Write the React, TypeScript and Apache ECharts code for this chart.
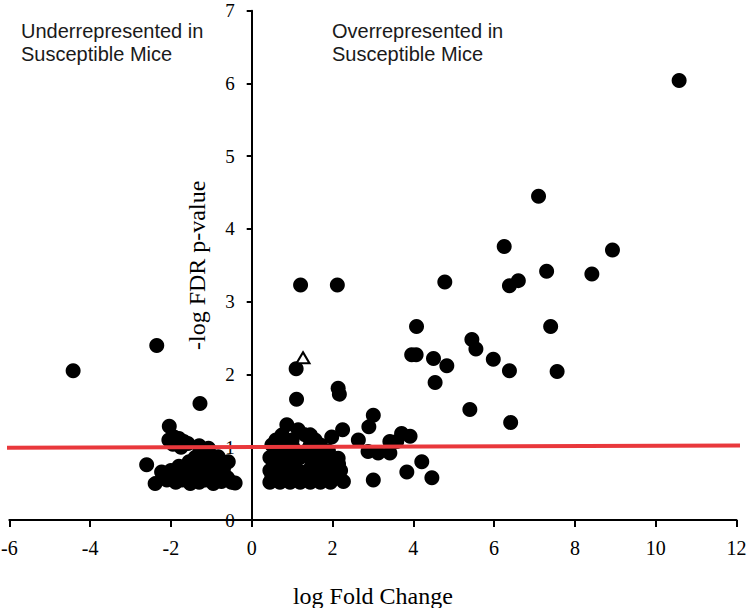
import React, { useEffect, useRef } from "react";
import * as echarts from "echarts";

// x: log Fold Change, y: -log FDR p-value
const underrepresented: [number, number][] = [
  [-4.42, 2.05], [-2.35, 2.4], [-1.28, 1.6], [-2.04, 1.29],
  [-2.05, 1.1], [-1.92, 1.14], [-1.8, 1.12], [-1.68, 1.08], [-1.58, 1.05], [-1.95, 1.04], [-1.75, 1.0],
  [-2.6, 0.76], [-2.39, 0.5], [-2.23, 0.66], [-2.1, 0.55], [-2.0, 0.68], [-1.92, 0.6], [-1.88, 0.52],
  [-1.8, 0.74], [-1.78, 0.64], [-1.72, 0.55], [-1.66, 0.7], [-1.62, 0.6], [-1.55, 0.8], [-1.52, 0.5],
  [-1.48, 0.68], [-1.43, 0.58], [-1.4, 0.86], [-1.35, 0.75], [-1.3, 0.52], [-1.28, 0.95], [-1.3, 1.02],
  [-1.25, 0.65], [-1.2, 0.8], [-1.2, 0.92], [-1.15, 0.55], [-1.1, 0.7], [-1.07, 0.985], [-1.05, 0.6],
  [-1.0, 0.88], [-0.95, 0.5], [-0.9, 0.75], [-0.83, 0.87], [-0.8, 0.62], [-0.75, 0.53], [-0.7, 0.7],
  [-0.6, 0.58], [-0.58, 0.8], [-0.5, 0.52], [-0.41, 0.51],
];

const overrepresented: [number, number][] = [
  [10.58, 6.04], [7.1, 4.45], [6.25, 3.76], [8.93, 3.71], [7.3, 3.42], [8.42, 3.38], [6.6, 3.29],
  [4.78, 3.27], [6.38, 3.22], [1.21, 3.23], [2.12, 3.23], [4.08, 2.66], [7.4, 2.66], [5.45, 2.48],
  [5.55, 2.35], [3.96, 2.27], [4.07, 2.27], [4.5, 2.22], [5.98, 2.21], [4.83, 2.12], [1.1, 2.08],
  [6.38, 2.05], [7.56, 2.04], [4.54, 1.89], [2.14, 1.81], [2.17, 1.73], [1.11, 1.66], [5.4, 1.52],
  [3.01, 1.44], [6.41, 1.34], [0.87, 1.31], [2.9, 1.28], [1.15, 1.24], [2.25, 1.24], [3.71, 1.19],
  [1.32, 1.17], [1.45, 1.17], [0.75, 1.17], [3.92, 1.15], [1.98, 1.14], [0.6, 1.1], [0.7, 1.1],
  [0.85, 1.1], [1.0, 1.1], [1.57, 1.1], [2.64, 1.1], [3.59, 1.08], [3.42, 1.08],
  [0.5, 1.03], [0.75, 1.03], [1.0, 1.03], [1.45, 1.03], [1.7, 1.03],
  [0.6, 0.95], [0.85, 0.95], [1.1, 0.95], [1.35, 0.95], [1.6, 0.95], [1.9, 0.95], [2.88, 0.94],
  [3.13, 0.92], [3.42, 0.92], [0.45, 0.86], [0.7, 0.86], [0.95, 0.86], [1.2, 0.86], [1.55, 0.86],
  [1.8, 0.86], [2.14, 0.85], [4.21, 0.8], [0.55, 0.77], [0.8, 0.77], [1.0, 0.77], [1.5, 0.77],
  [1.65, 0.77], [1.9, 0.77], [2.15, 0.77], [0.45, 0.68], [0.65, 0.68], [0.9, 0.68], [1.15, 0.68],
  [1.4, 0.68], [1.75, 0.68], [2.0, 0.68], [2.2, 0.68], [3.84, 0.66], [0.5, 0.6], [0.8, 0.6],
  [1.05, 0.6], [1.3, 0.6], [1.6, 0.6], [1.85, 0.6], [2.1, 0.6], [4.46, 0.58], [3.01, 0.55],
  [0.45, 0.52], [0.7, 0.52], [0.95, 0.52], [1.2, 0.52], [1.45, 0.52], [1.7, 0.52], [1.95, 0.52],
  [2.27, 0.53],
];

const openTriangle: [number, number][] = [[1.27, 2.23]];

const thresholdLine: [number, number][] = [[-6.13, 0.994], [12.13, 1.024]];

const xTicks = { min: -6, max: 12, interval: 2 };
const yTicks = { min: 0, max: 7, interval: 1 };

const leftNote = "Underrepresented in\nSusceptible Mice";
const rightNote = "Overrepresented in\nSusceptible Mice";

const GRID_LEFT = 9.3;
const GRID_RIGHT = 13.5;
const CHART_W = 750;

export default function App() {
  const ref = useRef<HTMLDivElement>(null);
  useEffect(() => {
    if (!ref.current) return;
    const chart = echarts.init(ref.current, null, { renderer: "svg" });
    const serif = "Liberation Serif";
    // place the y axis at x = 0 of the x axis
    const plotW = CHART_W - GRID_LEFT - GRID_RIGHT;
    const zeroOffset = ((0 - xTicks.min) / (xTicks.max - xTicks.min)) * plotW;
    chart.setOption({
      animation: false,
      backgroundColor: "#ffffff",
      grid: {
        left: GRID_LEFT,
        right: GRID_RIGHT,
        top: 10.7,
        bottom: 88,
        containLabel: false,
        outerBoundsMode: "none",
      },
      xAxis: {
        type: "value",
        min: xTicks.min,
        max: xTicks.max,
        interval: xTicks.interval,
        name: "log Fold Change",
        nameLocation: "middle",
        nameGap: 64,
        nameTextStyle: { fontFamily: serif, fontSize: 24, color: "#000" },
        axisLine: { onZero: false, lineStyle: { color: "#000", width: 2 } },
        axisTick: { length: 7, lineStyle: { color: "#000", width: 2 } },
        axisLabel: { fontFamily: serif, fontSize: 20, color: "#000", margin: 18 },
        splitLine: { show: false },
      },
      yAxis: {
        type: "value",
        position: "left",
        offset: -zeroOffset,
        min: yTicks.min,
        max: yTicks.max,
        interval: yTicks.interval,
        name: "-log FDR p-value",
        nameLocation: "middle",
        nameGap: 43,
        nameTextStyle: { fontFamily: serif, fontSize: 24, color: "#000" },
        axisLine: { onZero: false, lineStyle: { color: "#000", width: 2 } },
        axisTick: { length: 5, lineStyle: { color: "#000", width: 2 } },
        axisLabel: { fontFamily: serif, fontSize: 19, color: "#000", margin: 17 },
        splitLine: { show: false },
      },
      graphic: [
        {
          type: "text",
          left: 21,
          top: 19,
          style: {
            text: leftNote,
            font: '20px "Liberation Sans"',
            lineHeight: 23,
            fill: "#1a1a1a",
          },
        },
        {
          type: "text",
          left: 332,
          top: 19,
          style: {
            text: rightNote,
            font: '20px "Liberation Sans"',
            lineHeight: 23,
            fill: "#1a1a1a",
          },
        },
      ],
      series: [
        {
          type: "scatter",
          data: underrepresented,
          symbol: "circle",
          symbolSize: 15,
          itemStyle: { color: "#000", opacity: 1 },
          z: 2,
        },
        {
          type: "scatter",
          data: overrepresented,
          symbol: "circle",
          symbolSize: 15,
          itemStyle: { color: "#000", opacity: 1 },
          z: 2,
        },
        {
          type: "scatter",
          data: openTriangle,
          symbol: "triangle",
          symbolSize: [13, 11],
          itemStyle: { color: "#fff", borderColor: "#000", borderWidth: 2, opacity: 1 },
          z: 3,
        },
        {
          type: "line",
          data: thresholdLine,
          showSymbol: false,
          clip: false,
          lineStyle: { color: "#e9383c", width: 4 },
          z: 4,
        },
      ],
    });
    return () => chart.dispose();
  }, []);
  return (
    <div
      ref={ref}
      style={{ position: "fixed", left: 0, top: 0, width: CHART_W, height: 608 }}
    />
  );
}
